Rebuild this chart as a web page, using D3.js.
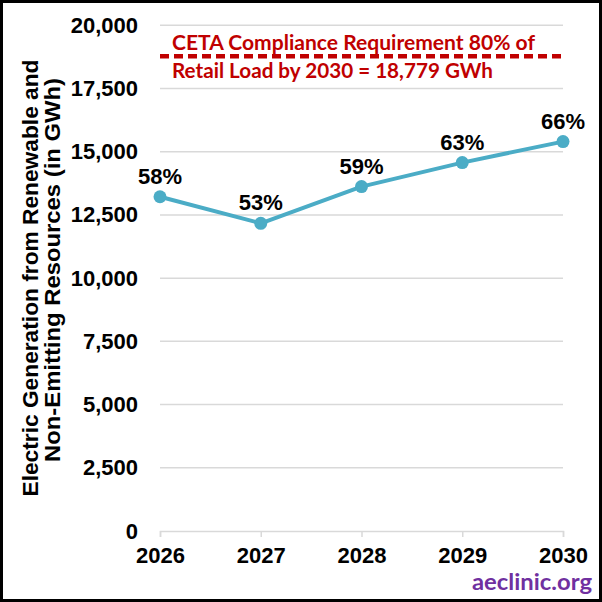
<!DOCTYPE html>
<html>
<head>
<meta charset="utf-8">
<script src="https://cdn.jsdelivr.net/npm/d3@7"></script>
<style>
    html, body { margin: 0; padding: 0; background: #fff; }
    svg { display: block; }
</style>
</head>
<body>
<svg id="chart"></svg>
<script>
// values
const years = [2026, 2027, 2028, 2029, 2030];
const generation = [13220, 12170, 13620, 14570, 15400];   // GWh
const shareLabels = ["58%", "53%", "59%", "63%", "66%"];
const target = 18779;
const yTicks = [0, 2500, 5000, 7500, 10000, 12500, 15000, 17500, 20000];
const targetText = ["CETA Compliance Requirement 80% of", "Retail Load by 2030 = 18,779 GWh"];
const yTitle = ["Electric Generation from Renewable and", "Non-Emitting Resources (in GWh)"];

const width = 602;
const height = 602;
const lineColor = "#4BACC6";
const red = "#C00000";
const gridColor = "#D9D9D9";
const arial = "'Liberation Sans', Arial, sans-serif";
const calibri = "Lato, 'Open Sans', sans-serif";

let svg = d3.select("#chart")
    .attr("width", width)
    .attr("height", height);

svg.append("rect")
    .attr("x", 1.5).attr("y", 1.5)
    .attr("width", width - 3).attr("height", height - 3)
    .attr("fill", "#fff")
    .attr("stroke", "#000")
    .attr("stroke-width", 3);

const x = d3.scalePoint()
    .domain(years)
    .range([160, 563]);

const y = d3.scaleLinear()
    .domain([0, 20000])
    .range([531, 25.3]);

// gridlines
svg.append("g")
    .selectAll("line")
    .data(yTicks.filter(d => d > 0))
    .join("line")
    .attr("x1", x(years[0]))
    .attr("x2", x(years[years.length - 1]))
    .attr("y1", d => y(d))
    .attr("y2", d => y(d))
    .attr("stroke", gridColor)
    .attr("stroke-width", 1.5);

// x axis
const xAxis = svg.append("g")
    .attr("transform", `translate(0,${y(0)})`)
    .call(d3.axisBottom(x).tickSize(6).tickPadding(10));
xAxis.select(".domain").attr("stroke", gridColor).attr("stroke-width", 1.5);
xAxis.selectAll(".tick line").attr("stroke", gridColor).attr("stroke-width", 1.5);
xAxis.selectAll(".tick text")
    .attr("fill", "#000")
    .attr("font-family", arial)
    .attr("font-weight", "bold")
    .attr("font-size", 22);

// y axis labels only
const yAxis = svg.append("g")
    .attr("transform", `translate(${x(years[0])},0)`)
    .call(d3.axisLeft(y).tickValues(yTicks).tickFormat(d3.format(",")).tickSize(0).tickPadding(22));
yAxis.select(".domain").remove();
yAxis.selectAll(".tick text")
    .attr("fill", "#000")
    .attr("font-family", arial)
    .attr("font-weight", "bold")
    .attr("font-size", 22);

// y title, two lines
const titleX = [38, 60];
const titleY = [278, 270];
const titleLen = [437, 384];
yTitle.forEach((t, i) => {
    svg.append("text")
        .attr("transform", `translate(${titleX[i]},${titleY[i]}) rotate(-90)`)
        .attr("text-anchor", "middle")
        .attr("font-family", arial)
        .attr("font-weight", "bold")
        .attr("font-size", 22)
        .attr("textLength", titleLen[i])
        .attr("lengthAdjust", "spacingAndGlyphs")
        .text(t);
});

// compliance target
svg.append("line")
    .attr("x1", x(years[0]))
    .attr("x2", x(years[years.length - 1]))
    .attr("y1", y(target))
    .attr("y2", y(target))
    .attr("stroke", red)
    .attr("stroke-width", 4.5)
    .attr("stroke-dasharray", "9,5");

const targetBase = [50, 78];
const targetLen = [363, 321];
targetText.forEach((t, i) => {
    svg.append("text")
        .attr("x", 172)
        .attr("y", targetBase[i])
        .attr("fill", red)
        .attr("font-family", calibri)
        .attr("font-weight", "bold")
        .attr("font-size", 21)
        .attr("textLength", targetLen[i])
        .attr("lengthAdjust", "spacingAndGlyphs")
        .text(t);
});

// generation line
const points = years.map((yr, i) => [yr, generation[i]]);

svg.append("path")
    .datum(points)
    .attr("fill", "none")
    .attr("stroke", lineColor)
    .attr("stroke-width", 4)
    .attr("stroke-linejoin", "round")
    .attr("d", d3.line().x(d => x(d[0])).y(d => y(d[1])));

svg.append("g")
    .selectAll("circle")
    .data(points)
    .join("circle")
    .attr("cx", d => x(d[0]))
    .attr("cy", d => y(d[1]))
    .attr("r", 6.5)
    .attr("fill", lineColor);

svg.append("g")
    .selectAll("text")
    .data(points)
    .join("text")
    .attr("x", d => x(d[0]))
    .attr("y", d => y(d[1]) - 13)
    .attr("text-anchor", "middle")
    .attr("font-family", arial)
    .attr("font-weight", "bold")
    .attr("font-size", 22)
    .text((d, i) => shareLabels[i]);

// source
svg.append("text")
    .attr("x", 592)
    .attr("y", 590)
    .attr("text-anchor", "end")
    .attr("fill", "#7030A0")
    .attr("font-family", calibri)
    .attr("font-weight", "bold")
    .attr("font-size", 23)
    .attr("textLength", 120)
    .attr("lengthAdjust", "spacingAndGlyphs")
    .text("aeclinic.org");
</script>
</body>
</html>
